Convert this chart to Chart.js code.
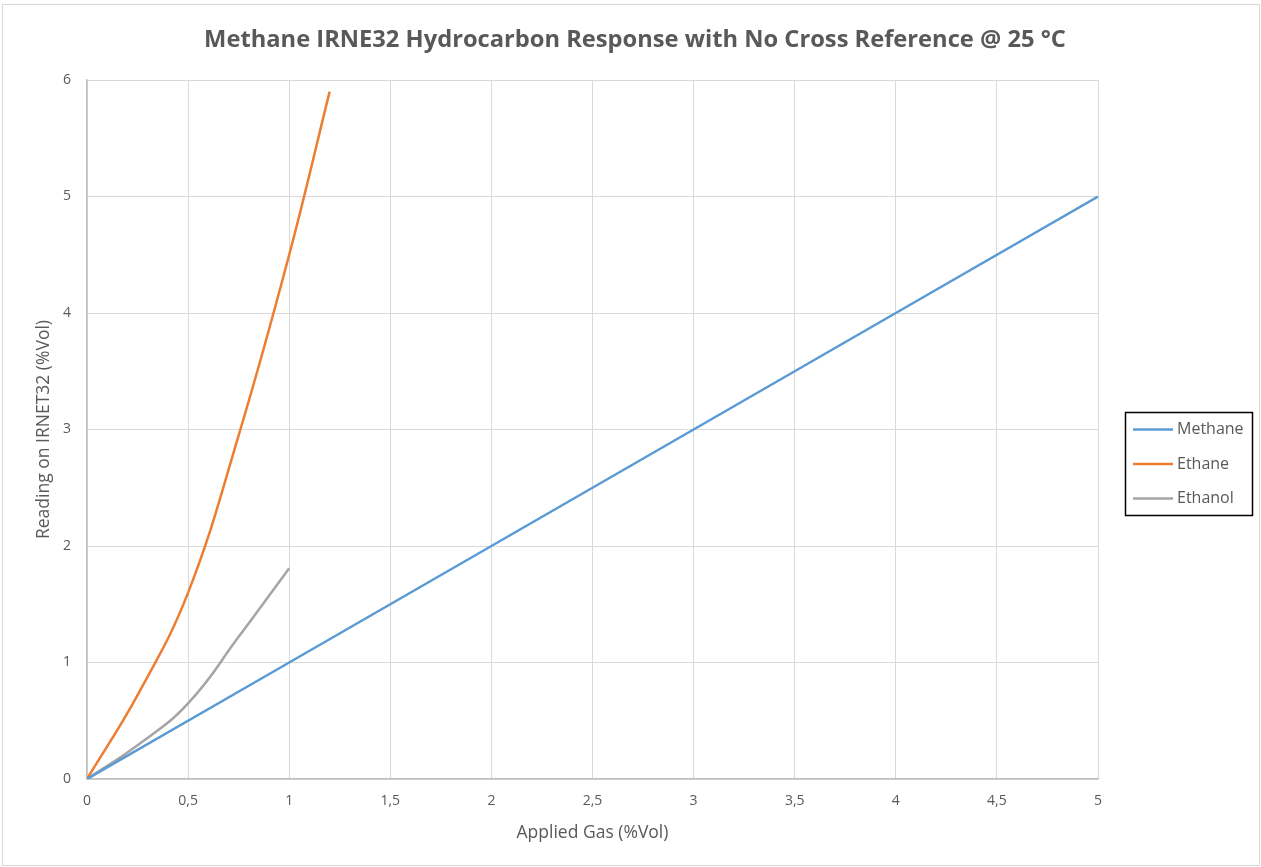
<!DOCTYPE html>
<html>
<head>
<meta charset="utf-8">
<script src="https://cdn.jsdelivr.net/npm/chart.js@4"></script>
<style>
  body { margin: 0; background: #fff; }
  #wrap { width: 1261px; height: 867px; position: relative; }
</style>
</head>
<body>
<div id="wrap"><canvas id="gasChart" width="1261" height="867"></canvas></div>
<script>
// data
const methaneX = [0, 1, 2, 3, 4, 5];
const methaneY = [0, 1, 2, 3, 4, 5];
const ethaneX = [0, 0.25, 0.5, 0.75, 1, 1.2];
const ethaneY = [0, 0.72, 1.6, 2.95, 4.5, 5.9];
const ethanolX = [0, 0.25, 0.5, 0.75, 1];
const ethanolY = [0, 0.29, 0.65, 1.22, 1.81];
const xTickLabels = ['0', '0,5', '1', '1,5', '2', '2,5', '3', '3,5', '4', '4,5', '5'];
const yTickLabels = ['0', '1', '2', '3', '4', '5', '6'];
const chartTitle = 'Methane IRNE32 Hydrocarbon Response with No Cross Reference @ 25 °C';

const FONT = '"Open Sans", sans-serif';
const TXT = '#595959';

function toPoints(xs, ys) {
  return xs.map((x, i) => ({ x: x, y: ys[i] }));
}

// white background, thin outer frame, and the title centred on the page
const frame = {
  id: 'frame',
  beforeDraw(chart) {
    const ctx = chart.ctx;
    ctx.save();
    ctx.fillStyle = '#fff';
    ctx.fillRect(0, 0, chart.width, chart.height);
    ctx.strokeStyle = '#d9d9d9';
    ctx.lineWidth = 1;
    ctx.strokeRect(2.5, 4.5, chart.width - 4, chart.height - 6);
    ctx.fillStyle = TXT;
    ctx.font = 'bold 23.7px ' + FONT;
    ctx.textAlign = 'center';
    ctx.textBaseline = 'middle';
    ctx.fillText(chartTitle, 635, 40);
    ctx.restore();
  }
};

// legend drawn like the Excel one (boxed, on the right)
const legendBox = {
  id: 'legendBox',
  afterDraw(chart) {
    const ctx = chart.ctx;
    ctx.save();
    ctx.strokeStyle = '#000';
    ctx.lineWidth = 1.5;
    ctx.strokeRect(1125.5, 412.5, 127, 103);
    chart.data.datasets.forEach((ds, i) => {
      const y = 429.5 + i * 34.5;
      ctx.strokeStyle = ds.borderColor;
      ctx.lineWidth = 2.5;
      ctx.beginPath();
      ctx.moveTo(1133, y);
      ctx.lineTo(1173, y);
      ctx.stroke();
      ctx.fillStyle = TXT;
      ctx.font = '16px ' + FONT;
      ctx.textBaseline = 'middle';
      ctx.fillText(ds.label, 1177, y);
    });
    ctx.restore();
  }
};

const ctx = document.getElementById('gasChart').getContext('2d');
const gasChart = new Chart(ctx, {
  type: 'line',
  data: {
    datasets: [
      {
        label: 'Methane',
        data: toPoints(methaneX, methaneY),
        borderColor: '#5B9BD5',
        borderWidth: 2.5,
        pointRadius: 0,
        fill: false
      },
      {
        label: 'Ethane',
        data: toPoints(ethaneX, ethaneY),
        borderColor: '#ED7D31',
        borderWidth: 2.5,
        pointRadius: 0,
        tension: 0.4,
        fill: false
      },
      {
        label: 'Ethanol',
        data: toPoints(ethanolX, ethanolY),
        borderColor: '#A5A5A5',
        borderWidth: 2.5,
        pointRadius: 0,
        tension: 0.45,
        fill: false
      }
    ]
  },
  options: {
    responsive: false,
    animation: false,
    layout: {
      padding: { left: 0, right: 163, top: 80, bottom: 0 }
    },
    plugins: {
      legend: { display: false },
      tooltip: { enabled: false },
      title: { display: false }
    },
    scales: {
      x: {
        type: 'linear',
        min: 0,
        max: 5,
        afterFit(scale) { scale.height = 88; },
        ticks: {
          stepSize: 0.5,
          color: TXT,
          font: { family: FONT, size: 14 },
          padding: 14,
          maxRotation: 0,
          callback: (v) => xTickLabels[Math.round(v * 2)]
        },
        grid: { color: '#d9d9d9', drawTicks: false },
        border: { color: '#bfbfbf', width: 1.5 },
        title: {
          display: true,
          text: 'Applied Gas (%Vol)',
          color: TXT,
          font: { family: FONT, size: 17.5 },
          padding: { top: 0, bottom: 23 }
        }
      },
      y: {
        type: 'linear',
        min: 0,
        max: 6,
        afterFit(scale) { scale.width = 87; },
        ticks: {
          stepSize: 1,
          color: TXT,
          font: { family: FONT, size: 14 },
          padding: 16,
          callback: (v) => yTickLabels[v]
        },
        grid: { color: '#d9d9d9', drawTicks: false },
        border: { color: '#bfbfbf', width: 1.5 },
        title: {
          display: true,
          text: 'Reading on IRNET32 (%Vol)',
          color: TXT,
          font: { family: FONT, size: 17.5 },
          padding: { top: 34, bottom: 0 }
        }
      }
    }
  },
  plugins: [frame, legendBox]
});
</script>
</body>
</html>
